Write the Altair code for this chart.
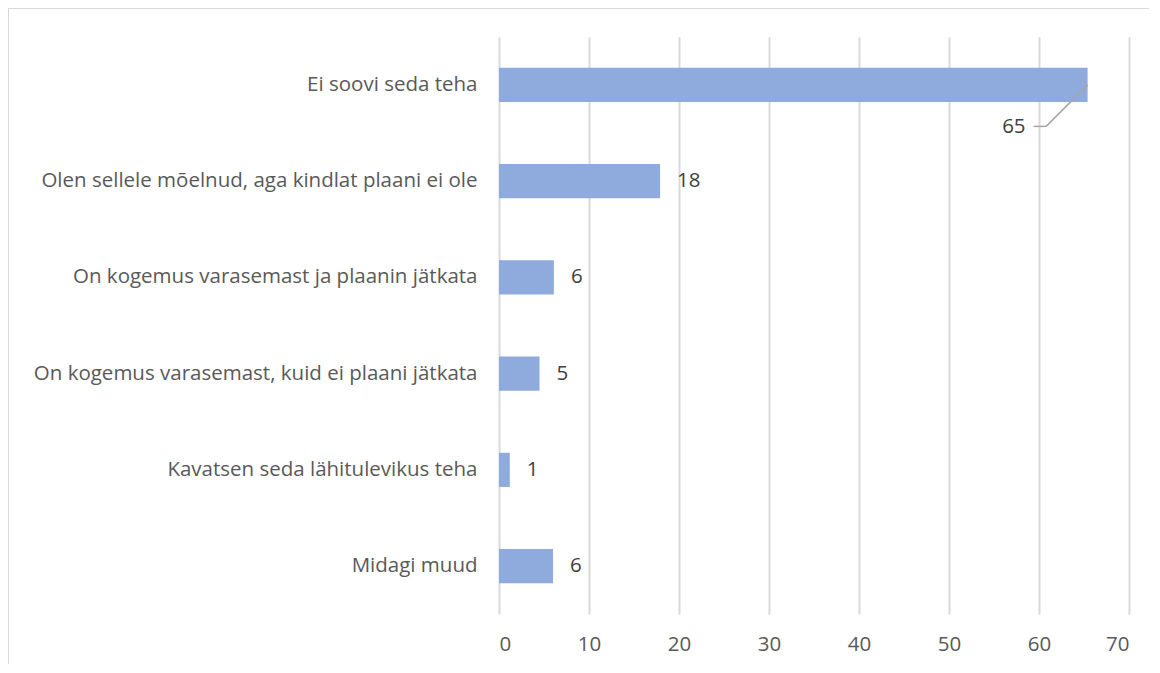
import altair as alt
import pandas as pd

categories = [
    "Ei soovi seda teha",
    "Olen sellele mõelnud, aga kindlat plaani ei ole",
    "On kogemus varasemast ja plaanin jätkata",
    "On kogemus varasemast, kuid ei plaani jätkata",
    "Kavatsen seda lähitulevikus teha",
    "Midagi muud",
]
values = [65.4, 17.9, 6.1, 4.5, 1.2, 6.0]
x_ticks = [0, 10, 20, 30, 40, 50, 60, 70]

df = pd.DataFrame({"cat": categories, "val": values})
FONT = "Open Sans"
FS = 20.5

y_enc = alt.Y("cat:N", sort=categories, title=None,
              scale=alt.Scale(paddingInner=0.645, paddingOuter=0.32),
              axis=alt.Axis(domain=False, ticks=False, labelPadding=22,
                            labelFont=FONT, labelFontSize=FS, labelColor="#595959",
                            labelLimit=600))
x_enc = alt.X("val:Q", title=None,
              scale=alt.Scale(domain=[0, 70], nice=False),
              axis=alt.Axis(values=x_ticks, domain=False, ticks=False, labelPadding=20,
                            labelFont=FONT, labelFontSize=FS, labelColor="#595959",
                            gridColor="#d9d9d9", gridWidth=2))

bars = alt.Chart(df).mark_bar(color="#8faadc").encode(x=x_enc, y=y_enc)

normal = alt.Chart(df).transform_filter(alt.datum.val < 50).mark_text(
    align="left", baseline="middle", dx=17, font=FONT, fontSize=FS, color="#404040"
).encode(x="val:Q", y=alt.Y("cat:N", sort=categories), text=alt.Text("val:Q", format=".0f"))

big = alt.Chart(df).transform_filter(alt.datum.val >= 50)

big_label = big.mark_text(
    align="right", baseline="middle", dx=-62, dy=42, font=FONT, fontSize=FS, color="#404040"
).encode(x="val:Q", y=alt.Y("cat:N", sort=categories), text=alt.Text("val:Q", format=".0f"))

leader_diag = big.mark_rule(color="#a6a6a6", strokeWidth=1.5, x2Offset=-41.5, y2Offset=41.5).encode(
    x="val:Q", x2="val:Q", y=alt.Y("cat:N", sort=categories), y2="cat:N")
leader_h = big.mark_rule(color="#a6a6a6", strokeWidth=1.5, xOffset=-41.5, x2Offset=-54,
                         yOffset=41.5, y2Offset=41.5).encode(
    x="val:Q", x2="val:Q", y=alt.Y("cat:N", sort=categories), y2="cat:N")

border = alt.Chart(df).mark_rect(filled=False, stroke="#d9d9d9", strokeWidth=2, clip=False).encode(
    x=alt.value(-491), x2=alt.value(720), y=alt.value(-29), y2=alt.value(720))

chart = alt.layer(border, bars, leader_diag, leader_h, big_label, normal).properties(
    width=630, height=577,
    autosize=alt.AutoSizeParams(type="none"),
    padding={"left": 491, "top": 29, "right": 20, "bottom": 50},
    background="white",
).configure_view(stroke=None)

chart.save("out.html", embed_options={"renderer": "svg", "actions": False})
